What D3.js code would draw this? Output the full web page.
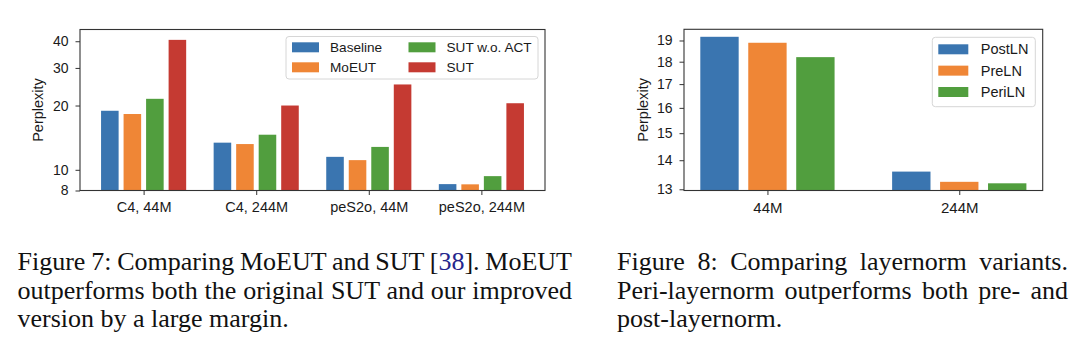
<!DOCTYPE html>
<html><head><meta charset="utf-8">
<script src="https://cdn.jsdelivr.net/npm/d3@7"></script>
<style>html,body{margin:0;padding:0;background:#fff;} svg{display:block}</style>
</head><body><svg id="c" width="1080" height="348"></svg>
<script>
// ---------- Data: Figure 7 ----------
const categoriesL = ["C4, 44M", "C4, 244M", "peS2o, 44M", "peS2o, 244M"];
const seriesNamesL = ["Baseline", "MoEUT", "SUT w.o. ACT", "SUT"];
const baselineVals = [18.9, 13.4, 11.5, 8.57];
const moeutVals = [18.25, 13.2, 11.1, 8.55];
const sutNoActVals = [21.5, 14.6, 12.8, 9.34];
const sutVals = [40.6, 20.0, 25.1, 20.5];
const yTicksL = [8, 10, 20, 30, 40];

// ---------- Data: Figure 8 ----------
const categoriesR = ["44M", "244M"];
const seriesNamesR = ["PostLN", "PreLN", "PeriLN"];
const postLNVals = [19.18, 13.6];
const preLNVals = [18.89, 13.25];
const periLNVals = [18.21, 13.2];
const yTicksR = [13, 14, 15, 16, 17, 18, 19];

const colors = ["#3a75b0", "#ef8636", "#519e3e", "#c53a32"];
const sansFont = "'Liberation Sans', Arial, Helvetica, sans-serif";
const serifFont = "'Liberation Serif', 'Times New Roman', Times, serif";

const svg = d3.select("#c");
svg.append("rect").attr("width", 1080).attr("height", 348).attr("fill", "#fff");

function drawChart(cfg) {
  const g = svg.append("g");
  const x = d3.scaleLinear().domain(cfg.xDomain).range([cfg.left, cfg.right]);
  const y = d3.scaleLog().domain(cfg.yDomain).range([cfg.bottom, cfg.top]);
  const n = cfg.series.length;
  const bw = x(cfg.barWidth) - x(0);
  cfg.series.forEach((vals, si) => {
    const off = (si - (n - 1) / 2) * cfg.step;
    g.append("g").selectAll("rect").data(vals).join("rect")
      .attr("x", (d, ci) => x(ci + off) - bw / 2)
      .attr("width", bw)
      .attr("y", d => y(d))
      .attr("height", d => y(cfg.yDomain[0]) - y(d))
      .attr("fill", colors[si]);
  });
  // y axis
  const ya = g.append("g").attr("transform", `translate(${cfg.left},0)`)
    .call(d3.axisLeft(y).tickValues(cfg.yTicks).tickFormat(d3.format("d")).tickSize(4.5).tickPadding(7));
  ya.select(".domain").remove();
  ya.selectAll("line").attr("stroke", "#333").attr("stroke-width", 1);
  ya.selectAll("text").attr("font-family", sansFont).attr("font-size", cfg.tickFont).attr("fill", "#1a1a1a");
  // x axis
  const xa = g.append("g").attr("transform", `translate(0,${cfg.bottom})`)
    .call(d3.axisBottom(x).tickValues(d3.range(cfg.categories.length)).tickFormat(i => cfg.categories[i]).tickSize(4.5).tickPadding(7));
  xa.select(".domain").remove();
  xa.selectAll("line").attr("stroke", "#333").attr("stroke-width", 1);
  xa.selectAll("text").attr("font-family", sansFont).attr("font-size", cfg.xTickFont).attr("fill", "#1a1a1a");
  // frame
  g.append("rect").attr("x", cfg.left).attr("y", cfg.top)
    .attr("width", cfg.right - cfg.left).attr("height", cfg.bottom - cfg.top)
    .attr("fill", "none").attr("stroke", "#333").attr("stroke-width", 1.1);
  // y label
  g.append("text").attr("transform", `translate(${cfg.ylabelX},${(cfg.top + cfg.bottom) / 2}) rotate(-90)`)
    .attr("text-anchor", "middle").attr("font-family", sansFont).attr("font-size", cfg.labelFont)
    .attr("fill", "#1a1a1a").text("Perplexity");
  // legend
  const L = cfg.legend;
  const lg = g.append("g");
  lg.append("rect").attr("x", L.x).attr("y", L.y).attr("width", L.w).attr("height", L.h)
    .attr("rx", 3).attr("fill", "#fff").attr("fill-opacity", 0.85).attr("stroke", "#d6d6d6").attr("stroke-width", 1);
  cfg.names.forEach((name, i) => {
    const col = Math.floor(i / L.rows), row = i % L.rows;
    const px = L.px + col * L.colStep, py = L.py + row * L.rowStep;
    lg.append("rect").attr("x", px).attr("y", py - L.ph / 2).attr("width", L.pw).attr("height", L.ph).attr("fill", colors[i]);
    lg.append("text").attr("x", px + L.textOff).attr("y", py).attr("dy", "0.35em")
      .attr("font-family", sansFont).attr("font-size", L.font).attr("fill", "#1a1a1a").text(name);
  });
}

drawChart({
  categories: categoriesL, names: seriesNamesL,
  series: [baselineVals, moeutVals, sutNoActVals, sutVals],
  xDomain: [-0.565, 3.565], yDomain: [8, 45.4], yTicks: yTicksL,
  left: 80, right: 545, top: 29.5, bottom: 190.5,
  step: 0.2, barWidth: 0.156,
  tickFont: 14, xTickFont: 14.5, labelFont: 14.5, ylabelX: 43,
  legend: { x: 286, y: 36.5, w: 252, h: 42.5, px: 292, py: 47.3, rows: 2, rowStep: 20, colStep: 116.5,
            pw: 27, ph: 10, textOff: 38, font: 13.6 }
});

drawChart({
  categories: categoriesR, names: seriesNamesR,
  series: [postLNVals, preLNVals, periLNVals],
  xDomain: [-0.435, 1.435], yDomain: [12.96, 19.55], yTicks: yTicksR,
  left: 684, right: 1042.7, top: 29.3, bottom: 190.5,
  step: 0.25, barWidth: 0.2,
  tickFont: 14, xTickFont: 15, labelFont: 14.5, ylabelX: 648,
  legend: { x: 932.3, y: 37.3, w: 103, h: 69.4, px: 938.3, py: 49.3, rows: 3, rowStep: 21.35, colStep: 0,
            pw: 30, ph: 10, textOff: 42.5, font: 14.5 }
});

// ---------- Captions ----------
const captionFont = 26;
function captionLine(x, y, width, parts, justify) {
  const t = svg.append("text").attr("x", x).attr("y", y)
    .attr("font-family", serifFont).attr("font-size", captionFont).attr("fill", "#111");
  parts.forEach(p => t.append("tspan").attr("fill", p.color || "#111").text(p.text));
  if (justify) {
    const full = parts.map(p => p.text).join("");
    const gaps = (full.match(/ /g) || []).length;
    const w = t.node().getComputedTextLength();
    if (gaps > 0) t.attr("word-spacing", (width - w) / gaps);
  }
}
const capBase = [270, 298.5, 327];
const c7x = 17.5, c7w = 554.5;
captionLine(c7x, capBase[0], c7w, [{text: "Figure 7: Comparing MoEUT and SUT ["}, {text: "38", color: "#25258c"}, {text: "]. MoEUT"}], true);
captionLine(c7x, capBase[1], c7w, [{text: "outperforms both the original SUT and our improved"}], true);
captionLine(c7x, capBase[2], c7w, [{text: "version by a large margin."}], false);
const c8x = 617, c8w = 451;
captionLine(c8x, capBase[0], c8w, [{text: "Figure 8: Comparing layernorm variants."}], true);
captionLine(c8x, capBase[1], c8w, [{text: "Peri-layernorm outperforms both pre- and"}], true);
captionLine(c8x, capBase[2], c8w, [{text: "post-layernorm."}], false);
</script>
</body></html>
